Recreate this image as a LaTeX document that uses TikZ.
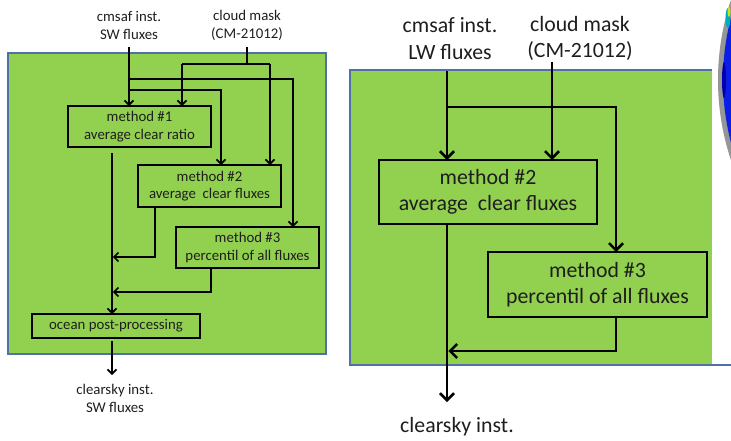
\documentclass[tikz,border=0pt]{standalone}
\usepackage{fontspec}
\setmainfont{Carlito}
\usetikzlibrary{arrows.meta}
\definecolor{panelgreen}{RGB}{146,208,80}
\definecolor{panelblue}{RGB}{79,113,165}
\definecolor{inktext}{RGB}{30,30,30}
\definecolor{globegray}{RGB}{150,150,150}
\definecolor{globeblue}{RGB}{10,30,230}
\tikzset{
  smalltxt/.style={font=\fontsize{14.8}{17.5}\selectfont, text=inktext, align=center, inner sep=0pt},
  bigtxt/.style={font=\fontsize{21.8}{26.5}\selectfont, text=inktext, align=center, inner sep=0pt},
  smallbox/.style={smalltxt, draw=black, line width=1.6pt, outer sep=0pt},
  bigbox/.style={bigtxt, draw=black, line width=2.6pt, outer sep=0pt},
  smallline/.style={draw=black, line width=1.6pt},
  bigline/.style={draw=black, line width=2.6pt},
  smallarr/.style={smallline, -{Straight Barb[length=4.5pt,width=9pt]}},
  bigarr/.style={bigline, -{Straight Barb[length=7pt,width=14pt]}},
}
\begin{document}
\begin{tikzpicture}[x=1pt,y=-1pt]
\useasboundingbox (0,0) rectangle (731,440);

% ---------- SW scheme ----------
\fill[panelgreen] (8,53) rectangle (326,354);
\draw[panelblue, line width=1.2pt] (8,53) rectangle (326,354);

\node[smalltxt] (swin) at (129,25.5) {cmsaf inst.\\SW fluxes};
\node[smalltxt] (cmin) at (247,25.5) {cloud mask\\(CM-21012)};

\node[smallbox, minimum width=143, minimum height=41] (m1) at (139.5,126.5) {method \#1\\average clear ratio};
\node[smallbox, minimum width=143, minimum height=42] (m2) at (209.5,186) {method \#2\\average\ \ clear fluxes};
\node[smallbox, minimum width=143, minimum height=41] (m3) at (247.5,247.5) {method \#3\\percentil of all fluxes};
\node[smallbox, minimum width=168, minimum height=24] (ocean) at (116,326) {ocean post-processing};
\node[smalltxt] (swout) at (115,398.5) {clearsky inst.\\SW fluxes};

\coordinate (swtop) at (129,47);
\coordinate (swa) at (129,79);
\coordinate (swb) at (129,90);
\coordinate (swa3) at (293,79);
\coordinate (swb2) at (221,90);
\coordinate (cmtop) at (247,47);
\coordinate (cmj) at (247,64);
\coordinate (cm1) at (182,64);
\coordinate (cm2) at (270,64);
\coordinate (m1out) at (112,153);
\coordinate (m2out) at (155,207);
\coordinate (m2bend) at (155,257);
\coordinate (m3out) at (211,268);
\coordinate (m3bend) at (211,292);
\coordinate (oceanout) at (112,341);
\coordinate (finalsw) at (112,375);

\draw[smallarr] (swtop) -- (swtop |- m1.north);
\draw[smallarr] (swa) -- (swa3) -- (swa3 |- m3.north);
\draw[smallarr] (swb) -- (swb2) -- (swb2 |- m2.north);
\draw[smallline] (cmtop) -- (cmj);
\draw[smallline] (cm1) -- (cm2);
\draw[smallarr] (cm1) -- (cm1 |- m1.north);
\draw[smallarr] (cm2) -- (cm2 |- m2.north);
\draw[smallarr] (m1out) -- (m1out |- ocean.north);
\draw[smallarr] (m2out) -- (m2bend) -- ([xshift=0.8pt]m2bend -| m1out);
\draw[smallarr] (m3out) -- (m3bend) -- ([xshift=0.8pt]m3bend -| m1out);
\draw[smallarr] (oceanout) -- (finalsw);

% ---------- LW scheme ----------
\fill[panelgreen] (350,70) rectangle (712,365);
\draw[panelblue, line width=1.6pt] (712,70) -- (350,70) -- (350,365) -- (731,365);

\node[bigtxt] (lwin) at (450,38.5) {cmsaf inst.\\LW fluxes};
\node[bigtxt] (cmrin) at (580,38.5) {cloud mask\\(CM-21012)};

\node[bigbox, minimum width=218, minimum height=64] (r2) at (488,192) {method \#2\\average\ \ clear fluxes};
\node[bigbox, minimum width=219, minimum height=65] (r3) at (597.5,284.5) {method \#3\\percentil of all fluxes};
\node[bigtxt] (lwout) at (457,427) {clearsky inst.};

\coordinate (lwtop) at (447,71);
\coordinate (lwj) at (447,107);
\coordinate (lwr3) at (616,107);
\coordinate (cmrtop) at (552,62);
\coordinate (r2out) at (447,224);
\coordinate (r3out) at (616,317);
\coordinate (r3bend) at (616,351);
\coordinate (finallw) at (447,402);

\draw[bigarr] (lwtop) -- (lwtop |- r2.north);
\draw[bigarr] (lwj) -- (lwr3) -- (lwr3 |- r3.north);
\draw[bigarr] (cmrtop) -- (cmrtop |- r2.north);
\draw[bigarr] (r2out) -- (finallw);
\draw[bigarr] (r3out) -- (r3bend) -- ([xshift=1.3pt]r3bend -| r2out);

% ---------- globe at the edge ----------
\begin{scope}
  \clip (712,0) rectangle (731,175);
  \fill[globegray] (971,80) circle (253);
  \fill[globeblue] (971,80) circle (248);
  \fill[cyan!70!green] (728,18) ellipse (2.5 and 10);
  \fill[yellow!80!green] (729,12) ellipse (1.5 and 5);
  \fill[blue!70!black] (724,80) ellipse (2 and 18);
\end{scope}
\end{tikzpicture}
\end{document}
